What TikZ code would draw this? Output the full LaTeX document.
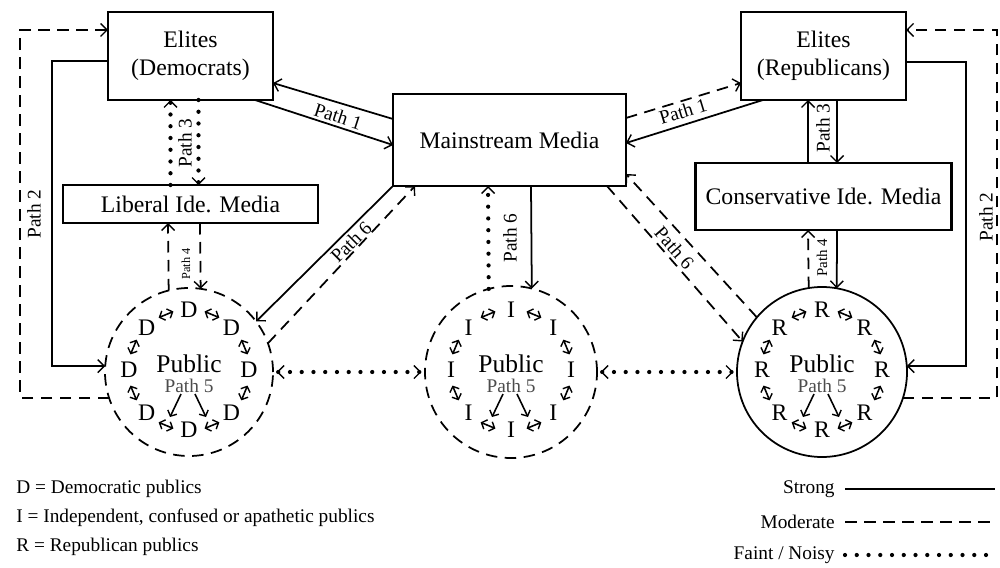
\documentclass[tikz,border=0pt]{standalone}
\usepackage{fontspec}
\setmainfont{Liberation Serif}
\usetikzlibrary{arrows.meta,calc}
\newcommand\mfs{\fontsize{13.5}{16}\selectfont}
\newcommand\lfs{\fontsize{11}{13}\selectfont}
\newcommand\pubring[2]{%
  \foreach \a [count=\i] in {90,45,0,-45,-90,-135,180,135}{
    \node[font=\mfs, inner sep=0pt] (#1-l\i) at ($(#1)+({60*cos(\a)},{-60*sin(\a)-2})$) {#2};
  }
  \foreach \b in {67.5,22.5,-22.5,-67.5,-112.5,-157.5,157.5,112.5}{
    \draw[ringarrow,<->] ($(#1)+({60*cos(\b)+8*sin(\b)},{-60*sin(\b)+8*cos(\b)-2})$) -- ($(#1)+({60*cos(\b)-8*sin(\b)},{-60*sin(\b)-8*cos(\b)-2})$);
  }
  \node[font=\fontsize{14.5}{16}\selectfont, inner sep=0pt] (#1-t) at ($(#1)+(0,-8)$) {Public};
  \node[font=\lfs, text=black!70, inner sep=0pt] (#1-p) at ($(#1)+(0,14)$) {Path 5};
  \draw[ringarrow,->] ($(#1)+(-8,22)$) -- ($(#1)+(-19,45)$);
  \draw[ringarrow,->] ($(#1)+(6,22)$) -- ($(#1)+(17,45)$);
}
\tikzset{
  >={Straight Barb[length=1.3mm,width=2.6mm,line width=0.8pt]},
  box/.style={draw, line width=1.3pt, inner sep=0pt, outer sep=0pt, align=center, font=\mfs, fill=white},
  pub/.style={circle, draw, inner sep=0pt, outer sep=0pt},
  strong/.style={line width=1pt},
  moderate/.style={line width=1pt, dash pattern=on 2.3mm off 1.5mm},
  faint/.style={line width=2.4pt, line cap=round, dash pattern=on 0pt off 2.35mm},
  plbl/.style={font=\lfs, inner sep=1.5pt},
  ringarrow/.style={line width=0.9pt, >={Straight Barb[length=0.9mm,width=2mm,line width=0.8pt]}},
  lg/.style={font=\lfs, inner sep=0pt},
}
\begin{document}
\begin{tikzpicture}[x=0.2mm,y=-0.2mm]
\useasboundingbox (0,0) rectangle (1000,568);

% boxes
\node[box, minimum width=33mm, minimum height=17.6mm] (ED) at (190.5,56) {Elites\\(Democrats)};
\node[box, minimum width=46.6mm, minimum height=18.4mm] (MM) at (509.5,140) {Mainstream Media};
\node[box, minimum width=33mm, minimum height=17.6mm] (ER) at (823.5,56) {Elites\\(Republicans)};
\node[box, minimum width=51mm, minimum height=7.6mm] (LM) at (190.5,204) {Liberal Ide. Media};
\node[box, minimum width=51.2mm, minimum height=13.4mm] (CM) at (823.5,196.5) {Conservative Ide. Media};

% publics
\node[pub, moderate, minimum size=33.6mm] (PD) at (189,372) {};
\node[pub, moderate, minimum size=34.4mm] (PI) at (511,372) {};
\node[pub, strong, minimum size=34mm] (PR) at (822,372) {};
\pubring{PD}{D}
\pubring{PI}{I}
\pubring{PR}{R}

% Path 2
\draw[strong,->] ($(ED.west)+(0,5)$) -- ++(-56,0) |- (PD.176);
\draw[moderate,->] (PD.198) -- ++(-89,0) |- ($(ED.west)+(0,-26)$);
\node[plbl, rotate=90] (p2L) at (34,214) {Path 2};
\draw[strong,->] ($(ER.east)+(0,6)$) -- ++(60,0) |- (PR.4);
\draw[moderate,->] (PR.-18) -- ++(94,0) |- ($(ER.east)+(0,-26)$);
\node[plbl, rotate=90] (p2R) at (986,217) {Path 2};

% Path 1
\draw[strong,->] ($(MM.west)+(0,-21)$) -- ($(ED.east)+(0,27)$);
\draw[strong,->] ($(ED.south east)+(-18,0)$) -- node[plbl, sloped, above, pos=0.58] (p1L) {Path 1} ($(MM.west)+(0,5)$);
\draw[moderate,->] ($(MM.east)+(0,-22)$) -- node[plbl, sloped, below, pos=0.47] (p1R) {Path 1} ($(ER.west)+(0,27)$);
\draw[strong,->] ($(ER.south west)+(22,0)$) -- ($(MM.east)+(0,3)$);

% Path 3
\draw[faint,->] ($(LM.north)+(-20,0)$) -- ($(ED.south)+(-20,0)$);
\draw[faint,->] ($(ED.south)+(8,0)$) -- ($(LM.north)+(8,0)$);
\node[plbl, rotate=90] (p3L) at (185,143) {Path 3};
\draw[strong,->] ($(CM.north)+(-15.5,0)$) -- ($(ER.south)+(-15.5,0)$);
\draw[strong,->] ($(ER.south)+(13.5,0)$) -- ($(CM.north)+(13.5,0)$);
\node[plbl, rotate=90] (p3R) at (823,128) {Path 3};

% Path 4
\draw[moderate,->] (PD.104.5) -- ($(LM.south)+(-22.5,0)$);
\draw[moderate,->] ($(LM.south)+(9.5,0)$) -- (PD.82.5);
\node[font=\fontsize{7}{8}\selectfont, rotate=90, inner sep=0.5pt] (p4L) at (186,264) {Path 4};
\draw[moderate,->] (PR.99.5) -- ($(CM.south)+(-15.5,0)$);
\draw[strong,->] ($(CM.south)+(13.5,0)$) -- (PR.80);
\node[font=\fontsize{8.5}{9}\selectfont, rotate=90, inner sep=0.5pt] (p4R) at (822,258) {Path 4};

% Path 6
\draw[strong,<-] (PD.37) -- node[plbl, sloped, below, pos=0.64] (p6L) {Path 6} (MM.south west);
\draw[moderate,->] (PD.20) -- ($(MM.south west)+(22,0)$);
\draw[faint,->] (PI.105.5) -- ($(MM.south)+(-21.5,0)$);
\draw[strong,->] ($(MM.south)+(21.5,0)$) -- (PI.76.5);
\node[plbl, rotate=90] (p6M) at (510,238) {Path 6};
\draw[moderate,->] ($(MM.south east)+(-19,0)$) -- node[plbl, sloped, above, pos=0.44] (p6R) {Path 6} (PR.159);
\draw[moderate,->] (PR.140) -- ($(MM.east)+(0,34)$);

% Path between publics
\draw[faint,<->, shorten <=2pt, shorten >=2pt] (PD.east) -- (PI.west);
\draw[faint,<->, shorten <=2pt, shorten >=2pt] (PI.east) -- (PR.west);

% legend
\node[lg, anchor=west] (kD) at (16,489) {D = Democratic publics};
\node[lg, anchor=west] (kI) at (16,518) {I = Independent, confused or apathetic publics};
\node[lg, anchor=west] (kR) at (16,547) {R = Republican publics};
\node[lg, anchor=east] (kS) at (835,489) {Strong};
\node[lg, anchor=east] (kM) at (835,522) {Moderate};
\node[lg, anchor=east] (kF) at (835,555) {Faint / Noisy};
\draw[strong] (kS.east) ++(10,0) -- ++(150,0);
\draw[moderate] (kM.east) ++(10,0) -- ++(152,0);
\draw[faint] (kF.east) ++(10,0) -- ++(152,0);
\end{tikzpicture}
\end{document}
